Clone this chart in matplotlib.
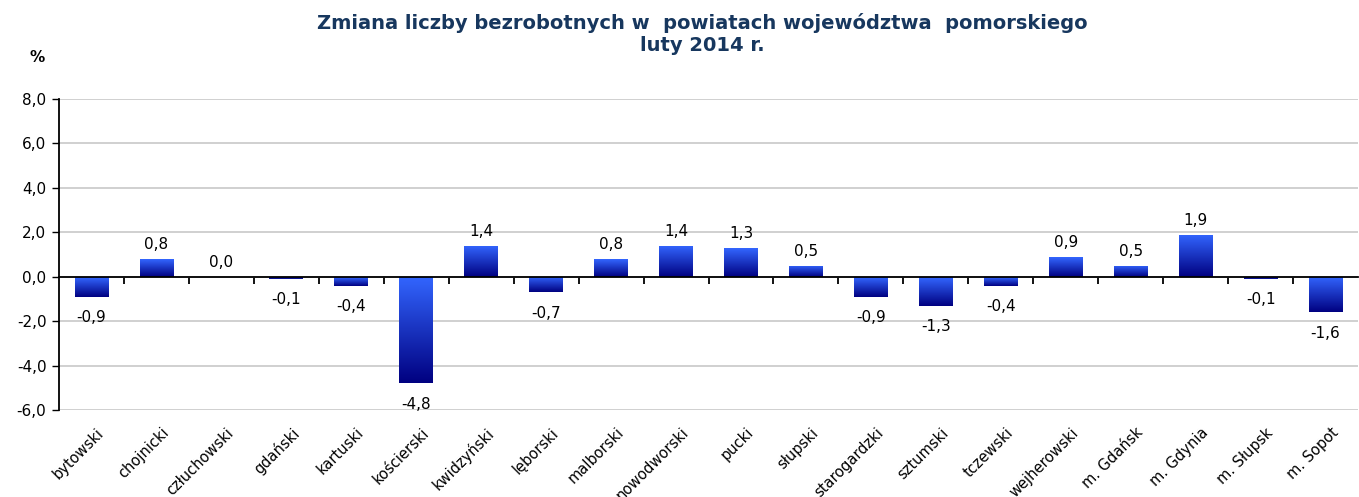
import numpy as np
import matplotlib.pyplot as plt
import matplotlib.transforms as mtransforms
from matplotlib.colors import LinearSegmentedColormap

# powiaty województwa pomorskiego, luty 2014
powiaty = ['bytowski', 'chojnicki', 'człuchowski', 'gdański', 'kartuski',
           'kościerski', 'kwidzyński', 'lęborski', 'malborski', 'nowodworski',
           'pucki', 'słupski', 'starogardzki', 'sztumski', 'tczewski',
           'wejherowski', 'm. Gdańsk', 'm. Gdynia', 'm. Słupsk', 'm. Sopot']
zmiana = [-0.9, 0.8, 0.0, -0.1, -0.4, -4.8, 1.4, -0.7, 0.8, 1.4,
          1.3, 0.5, -0.9, -1.3, -0.4, 0.9, 0.5, 1.9, -0.1, -1.6]
y_ticks = [-6, -4, -2, 0, 2, 4, 6, 8]

TITLE = 'Zmiana liczby bezrobotnych w  powiatach województwa  pomorskiego\nluty 2014 r.'

fig = plt.figure(figsize=(13.59, 4.97), dpi=100)
ax = fig.add_axes([59 / 1359, 1 - 410 / 497, 1299 / 1359, 311 / 497])

x = np.arange(len(powiaty))
bars = ax.bar(x, zmiana, width=0.52, facecolor='none', edgecolor='none', zorder=3)

# gradient fill, jasny u góry, ciemny u dołu
cmap = LinearSegmentedColormap.from_list('grad', ['#000080', '#3366FF'])
grad = np.linspace(0, 1, 256).reshape(-1, 1)
for b in bars:
    x0, y0 = b.get_x(), b.get_y()
    w, h = b.get_width(), b.get_height()
    if h == 0:
        continue
    lo, hi = min(y0, y0 + h), max(y0, y0 + h)
    im = ax.imshow(grad, cmap=cmap, origin='lower', aspect='auto',
                   extent=[x0, x0 + w, lo, hi], zorder=3)
    im.set_clip_path(b)

ax.set_xlim(-0.5, len(powiaty) - 0.5)
ax.set_ylim(-6, 8)
ax.set_yticks(y_ticks)
ax.set_yticklabels([f'{v:.1f}'.replace('.', ',') for v in y_ticks], fontsize=11)
ax.tick_params(axis='y', direction='out', length=5, width=1, pad=4)
ax.grid(axis='y', color='#C8C8C8', linewidth=1.2, zorder=0)

for s in ['top', 'right']:
    ax.spines[s].set_visible(False)
ax.spines['left'].set_linewidth(1.3)
ax.spines['bottom'].set_position(('data', 0))
ax.spines['bottom'].set_linewidth(1.3)
ax.spines['bottom'].set_zorder(4)
ax.set_xticks(np.arange(0.5, len(powiaty) - 0.5, 1))
ax.set_xticklabels([])
ax.tick_params(axis='x', direction='out', length=5, width=1.3)

# nazwy powiatów pod osią
off = mtransforms.ScaledTranslation(0.05, -0.15, fig.dpi_scale_trans)
for i, name in enumerate(powiaty):
    ax.text(i, 0, name, transform=ax.get_xaxis_transform() + off,
            rotation=45, ha='right', va='top', rotation_mode='anchor',
            fontsize=10.5, color='black')

# etykiety wartości
for i, v in enumerate(zmiana):
    dy = 14 if v >= 0 else -21
    ax.annotate(f'{v:.1f}'.replace('.', ','), (i, v), xytext=(0, dy),
                textcoords='offset pixels', ha='center', va='center',
                fontsize=11, color='black')

fig.text(702 / 1359, 1 - 34 / 497, TITLE, ha='center', va='center',
         fontsize=14, fontweight='bold', color='#17375E', linespacing=1.15)
fig.text(37 / 1359, 1 - 58 / 497, '%', ha='center', va='center',
         fontsize=11, fontweight='bold')

fig.savefig('out.png', dpi=100)
